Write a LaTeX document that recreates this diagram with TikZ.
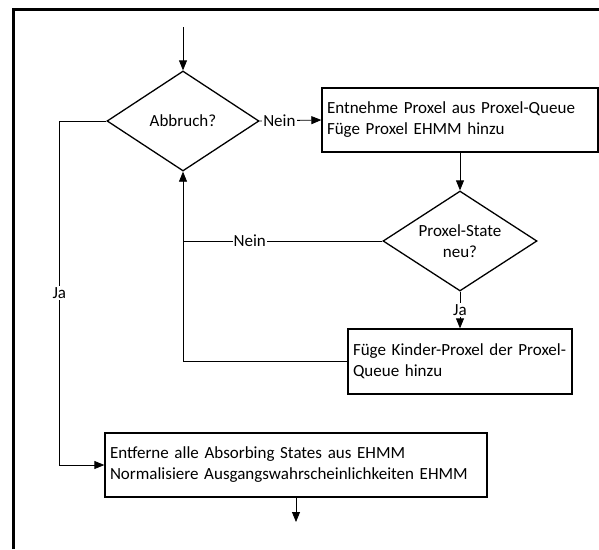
\documentclass[tikz,border=0pt]{standalone}
\usepackage{fontspec}
\setmainfont{Carlito}
\usetikzlibrary{arrows.meta, positioning, shapes.geometric}
\tikzset{%
	every step box/.style={
		draw,
		rectangle,
		line width=1.3pt,
		align=left,
		inner xsep=5pt,
		inner ysep=4pt,
		font=\fontsize{17}{21}\selectfont
	},
	decision/.style={
		draw,
		diamond,
		line width=1.3pt,
		aspect=1.5,
		inner sep=1pt,
		align=center,
		font=\fontsize{17}{21}\selectfont
	},
	flow/.style={line width=0.8pt, -{Triangle[length=10pt,width=8pt]}},
	branch/.style={fill=white, inner sep=1pt, font=\fontsize{17}{18}\selectfont},
}

\begin{document}
\begin{tikzpicture}[x=1pt, y=-1pt]
	\useasboundingbox (0,0) rectangle (599,549);
	
	% Frame
	\draw[line width=3pt] (13,549) -- (13,9) -- (599,9);
	
	% Decisions
	\node[decision, minimum width=152, minimum height=100] (abbruch) at (183,121) {Abbruch?};
	\node[decision, minimum width=154, minimum height=100] (neu) at (460,241) {Proxel-State\\neu?};
	
	% Process boxes
	\node[every step box, minimum width=276, minimum height=64, text width=266] (entnehme) at (460,120)
		{Entnehme Proxel aus Proxel-Queue\\Füge Proxel EHMM hinzu};
	\node[every step box, minimum width=224, minimum height=65, text width=214] (kinder) at (460,361.5)
		{Füge Kinder-Proxel der Proxel-\\Queue hinzu};
	\node[every step box, minimum width=382, minimum height=64, text width=372] (entferne) at (296,465)
		{Entferne alle Absorbing States aus EHMM\\Normalisiere Ausgangswahrscheinlichkeiten EHMM};
	
	% Entry and exit
	\coordinate (start) at (183,27);
	\coordinate (ende) at (296,522);
	\draw[flow] (start) -- (abbruch.north);
	\draw[flow] (entferne.south) -- (ende);
	
	% Arrows between the steps
	\draw[flow] (abbruch.east) -- node[branch, pos=0.32] {Nein} (entnehme.west);
	\draw[flow] (entnehme.south) -- (neu.north);
	\draw[flow] (neu.south) -- node[branch, pos=0.5] {Ja} (kinder.north);
	\draw[line width=0.8pt] (neu.west) -- node[branch, pos=0.665] {Nein} (abbruch.south |- neu.west);
	\draw[flow] (kinder.west) -| (abbruch.south);
	\draw[flow] (abbruch.west) -- ++(-47,0) |- node[branch, pos=0.25] {Ja} (entferne.west);
	
\end{tikzpicture}
\end{document}
